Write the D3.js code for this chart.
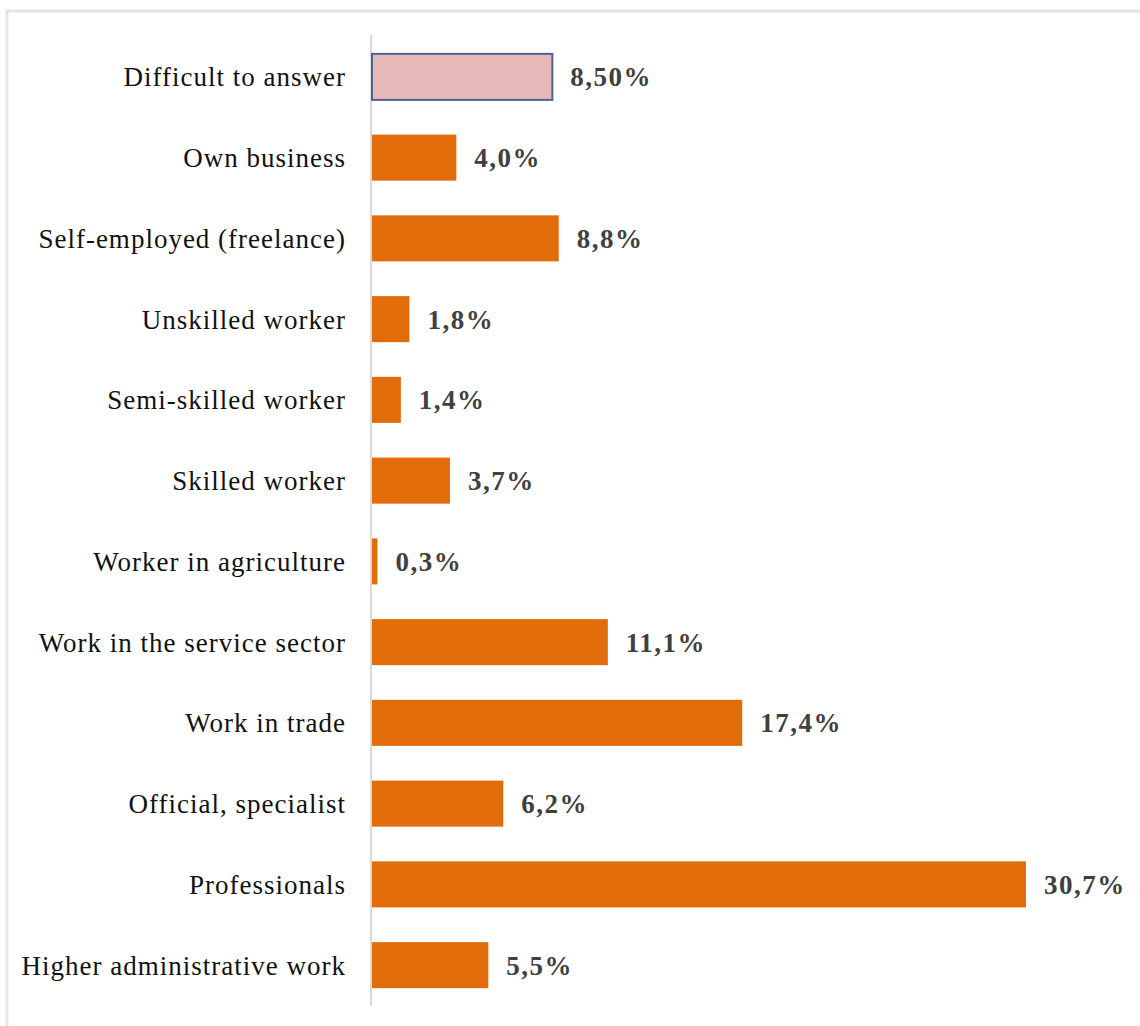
<!DOCTYPE html>
<html>
<head>
<meta charset="utf-8">
<script src="https://cdn.jsdelivr.net/npm/d3@7"></script>
<style>
  html, body { margin: 0; padding: 0; background: #fff; }
  svg { display: block; }
</style>
</head>
<body>
<svg id="chart" width="1140" height="1026"></svg>
<script>
const categories = [
  "Difficult to answer",
  "Own business",
  "Self-employed (freelance)",
  "Unskilled worker",
  "Semi-skilled worker",
  "Skilled worker",
  "Worker in agriculture",
  "Work in the service sector",
  "Work in trade",
  "Official, specialist",
  "Professionals",
  "Higher administrative work"
];
const values = [8.5, 4.0, 8.8, 1.8, 1.4, 3.7, 0.3, 11.1, 17.4, 6.2, 30.7, 5.5];
const valueLabels = ["8,50%", "4,0%", "8,8%", "1,8%", "1,4%", "3,7%", "0,3%", "11,1%", "17,4%", "6,2%", "30,7%", "5,5%"];
const highlighted = ["Difficult to answer"];

const svg = d3.select("#chart");

// outer frame (only top/left visible in crop)
svg.append("rect")
  .attr("x", 7).attr("y", 11)
  .attr("width", 1200).attr("height", 1100)
  .attr("fill", "none")
  .attr("stroke", "#e6e6e6")
  .attr("stroke-width", 3);

const x0 = 371;
const x = d3.scaleLinear().domain([0, 30.7]).range([x0, 1026]);
const y = d3.scaleBand().domain(categories).range([36.5, 1005.5]).paddingInner(0.43).paddingOuter(0.215);

// axis line
svg.append("line")
  .attr("x1", x0).attr("x2", x0)
  .attr("y1", 35).attr("y2", 1006)
  .attr("stroke", "#d9d9d9").attr("stroke-width", 2);

const data = categories.map((c, i) => ({c, v: values[i], l: valueLabels[i]}));

svg.selectAll("rect.bar").data(data).enter().append("rect")
  .attr("class", "bar")
  .attr("x", x(0) + 1)
  .attr("y", d => y(d.c))
  .attr("width", d => x(d.v) - x(0) - 1)
  .attr("height", y.bandwidth())
  .attr("fill", d => highlighted.includes(d.c) ? "#e6b8b7" : "#e36c0a")
  .attr("stroke", d => highlighted.includes(d.c) ? "#4f6292" : "none")
  .attr("stroke-width", 2);

svg.selectAll("text.cat").data(data).enter().append("text")
  .attr("class", "cat")
  .attr("x", 346)
  .attr("y", d => y(d.c) + y.bandwidth() / 2)
  .attr("dy", "0.35em")
  .attr("text-anchor", "end")
  .attr("font-family", "Liberation Serif, Times New Roman, serif")
  .attr("font-size", 27)
  .attr("letter-spacing", 1)
  .attr("fill", "#111")
  .text(d => d.c);

svg.selectAll("text.val").data(data).enter().append("text")
  .attr("class", "val")
  .attr("x", d => x(d.v) + 18)
  .attr("y", d => y(d.c) + y.bandwidth() / 2)
  .attr("dy", "0.35em")
  .attr("font-family", "Liberation Serif, Times New Roman, serif")
  .attr("font-weight", "bold")
  .attr("font-size", 27)
  .attr("letter-spacing", 1.5)
  .attr("fill", "#404040")
  .text(d => d.l);
</script>
</body>
</html>
